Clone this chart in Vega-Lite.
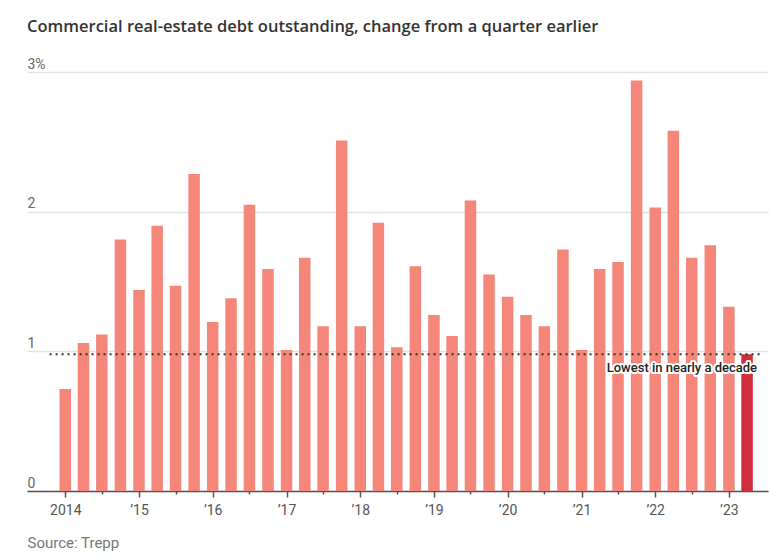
{
  "$schema": "https://vega.github.io/schema/vega-lite/v6.json",
  "autosize": {"type": "none"},
  "padding": {"left": 27, "top": 72, "right": 1, "bottom": 69},
  "width": 741,
  "height": 419,
  "background": "white",
  "title": {
    "text": "Commercial real-estate debt outstanding, change from a quarter earlier",
    "anchor": "start",
    "frame": "group",
    "font": "Open Sans",
    "fontSize": 16.5,
    "fontWeight": 600,
    "color": "#333333",
    "offset": 22
  },
  "config": {
    "view": {"stroke": null},
    "font": "Roboto"
  },
  "layer": [
    {
      "data": {
        "values": [
          {"date": "2014-01-01", "value": 0.73},
          {"date": "2014-04-01", "value": 1.06},
          {"date": "2014-07-01", "value": 1.12},
          {"date": "2014-10-01", "value": 1.80},
          {"date": "2015-01-01", "value": 1.44},
          {"date": "2015-04-01", "value": 1.90},
          {"date": "2015-07-01", "value": 1.47},
          {"date": "2015-10-01", "value": 2.27},
          {"date": "2016-01-01", "value": 1.21},
          {"date": "2016-04-01", "value": 1.38},
          {"date": "2016-07-01", "value": 2.05},
          {"date": "2016-10-01", "value": 1.59},
          {"date": "2017-01-01", "value": 1.01},
          {"date": "2017-04-01", "value": 1.67},
          {"date": "2017-07-01", "value": 1.18},
          {"date": "2017-10-01", "value": 2.51},
          {"date": "2018-01-01", "value": 1.18},
          {"date": "2018-04-01", "value": 1.92},
          {"date": "2018-07-01", "value": 1.03},
          {"date": "2018-10-01", "value": 1.61},
          {"date": "2019-01-01", "value": 1.26},
          {"date": "2019-04-01", "value": 1.11},
          {"date": "2019-07-01", "value": 2.08},
          {"date": "2019-10-01", "value": 1.55},
          {"date": "2020-01-01", "value": 1.39},
          {"date": "2020-04-01", "value": 1.26},
          {"date": "2020-07-01", "value": 1.18},
          {"date": "2020-10-01", "value": 1.73},
          {"date": "2021-01-01", "value": 1.01},
          {"date": "2021-04-01", "value": 1.59},
          {"date": "2021-07-01", "value": 1.64},
          {"date": "2021-10-01", "value": 2.94},
          {"date": "2022-01-01", "value": 2.03},
          {"date": "2022-04-01", "value": 2.58},
          {"date": "2022-07-01", "value": 1.67},
          {"date": "2022-10-01", "value": 1.76},
          {"date": "2023-01-01", "value": 1.32},
          {"date": "2023-04-01", "value": 0.98}
        ]
      },
      "mark": {"type": "bar", "width": 11.5},
      "encoding": {
        "x": {
          "field": "date",
          "type": "temporal",
          "scale": {
            "type": "utc",
            "domain": [
              {"year": 2013, "month": 7, "date": 20, "utc": true},
              {"year": 2023, "month": 6, "date": 19, "utc": true}
            ]
          },
          "axis": {
            "title": "Source: Trepp",
            "titleFont": "Roboto",
            "titleFontSize": 15,
            "titleFontWeight": "normal",
            "titleColor": "#777777",
            "titleAnchor": "start",
            "titleAlign": "left",
            "titleX": 0,
            "titlePadding": 18,
            "values": [
              {"year": 2014, "month": 1, "date": 1, "utc": true},
              {"year": 2014, "month": 4, "date": 1, "utc": true},
              {"year": 2014, "month": 7, "date": 1, "utc": true},
              {"year": 2014, "month": 10, "date": 1, "utc": true},
              {"year": 2015, "month": 1, "date": 1, "utc": true},
              {"year": 2015, "month": 4, "date": 1, "utc": true},
              {"year": 2015, "month": 7, "date": 1, "utc": true},
              {"year": 2015, "month": 10, "date": 1, "utc": true},
              {"year": 2016, "month": 1, "date": 1, "utc": true},
              {"year": 2016, "month": 4, "date": 1, "utc": true},
              {"year": 2016, "month": 7, "date": 1, "utc": true},
              {"year": 2016, "month": 10, "date": 1, "utc": true},
              {"year": 2017, "month": 1, "date": 1, "utc": true},
              {"year": 2017, "month": 4, "date": 1, "utc": true},
              {"year": 2017, "month": 7, "date": 1, "utc": true},
              {"year": 2017, "month": 10, "date": 1, "utc": true},
              {"year": 2018, "month": 1, "date": 1, "utc": true},
              {"year": 2018, "month": 4, "date": 1, "utc": true},
              {"year": 2018, "month": 7, "date": 1, "utc": true},
              {"year": 2018, "month": 10, "date": 1, "utc": true},
              {"year": 2019, "month": 1, "date": 1, "utc": true},
              {"year": 2019, "month": 4, "date": 1, "utc": true},
              {"year": 2019, "month": 7, "date": 1, "utc": true},
              {"year": 2019, "month": 10, "date": 1, "utc": true},
              {"year": 2020, "month": 1, "date": 1, "utc": true},
              {"year": 2020, "month": 4, "date": 1, "utc": true},
              {"year": 2020, "month": 7, "date": 1, "utc": true},
              {"year": 2020, "month": 10, "date": 1, "utc": true},
              {"year": 2021, "month": 1, "date": 1, "utc": true},
              {"year": 2021, "month": 4, "date": 1, "utc": true},
              {"year": 2021, "month": 7, "date": 1, "utc": true},
              {"year": 2021, "month": 10, "date": 1, "utc": true},
              {"year": 2022, "month": 1, "date": 1, "utc": true},
              {"year": 2022, "month": 4, "date": 1, "utc": true},
              {"year": 2022, "month": 7, "date": 1, "utc": true},
              {"year": 2022, "month": 10, "date": 1, "utc": true},
              {"year": 2023, "month": 1, "date": 1, "utc": true},
              {"year": 2023, "month": 4, "date": 1, "utc": true}
            ],
            "labelExpr": "utcmonth(datum.value) === 0 ? (utcyear(datum.value) === 2014 ? '2014' : '\u2019' + utcFormat(datum.value, '%y')) : ''",
            "labelFont": "Roboto",
            "labelFontSize": 14,
            "labelColor": "#555555",
            "labelPadding": 6,
            "labelFlush": false,
            "labelOverlap": false,
            "tickColor": "#555555",
            "tickWidth": 1.5,
            "tickSize": {"condition": {"test": "utcmonth(datum.value) === 0", "value": 6}, "value": 3},
            "domainColor": "#555555",
            "domainWidth": 1.5,
            "grid": false
          }
        },
        "y": {
          "field": "value",
          "type": "quantitative",
          "scale": {"domain": [0, 3], "nice": false},
          "axis": {
            "title": null,
            "values": [0, 1, 2, 3],
            "format": "d",
            "labelExpr": "datum.value === 3 ? '3%' : datum.label",
            "labelAlign": "left",
            "labelBaseline": "alphabetic",
            "labelPadding": 0,
            "labelOffset": -4,
            "labelFont": "Roboto",
            "labelFontSize": 14,
            "labelColor": "#666666",
            "ticks": false,
            "tickSize": 0,
            "domain": false,
            "grid": true,
            "gridColor": "#e2e2e2",
            "gridWidth": 1.5
          }
        },
        "color": {
          "condition": {"test": "utcyear(datum.date) === 2023 && utcmonth(datum.date) === 3", "value": "#cf2e3a"},
          "value": "#f4877a"
        }
      }
    },
    {
      "data": {"values": [{"start": "2013-10-15", "end": "2023-06-15", "value": 0.98}]},
      "mark": {"type": "rule", "color": "#333333", "strokeWidth": 2, "strokeDash": [2, 4]},
      "encoding": {
        "x": {"field": "start", "type": "temporal"},
        "x2": {"field": "end"},
        "y": {"field": "value", "type": "quantitative"}
      }
    },
    {
      "data": {"values": [{"date": "2023-04-01", "value": 0.98, "label": "Lowest in nearly a decade"}]},
      "mark": {"type": "text", "align": "right", "baseline": "middle", "dx": 10, "dy": 14, "font": "Roboto", "fontSize": 13, "fontWeight": 500, "stroke": "white", "strokeWidth": 4, "strokeJoin": "round", "color": "white"},
      "encoding": {
        "x": {"field": "date", "type": "temporal"},
        "y": {"field": "value", "type": "quantitative"},
        "text": {"field": "label"}
      }
    },
    {
      "data": {"values": [{"date": "2023-04-01", "value": 0.98, "label": "Lowest in nearly a decade"}]},
      "mark": {"type": "text", "align": "right", "baseline": "middle", "dx": 10, "dy": 14, "font": "Roboto", "fontSize": 13, "fontWeight": 500, "color": "#222222"},
      "encoding": {
        "x": {"field": "date", "type": "temporal"},
        "y": {"field": "value", "type": "quantitative"},
        "text": {"field": "label"}
      }
    }
  ]
}
